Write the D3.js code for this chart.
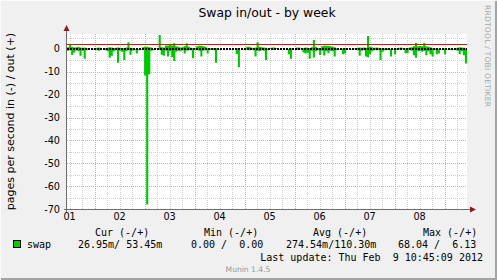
<!DOCTYPE html>
<html>
<head>
<meta charset="utf-8">
<script src="https://cdnjs.cloudflare.com/ajax/libs/d3/7.8.5/d3.min.js"></script>
<style>
body { margin: 0; background: #f0f0f0; }
svg { display: block; }
</style>
</head>
<body>
<div id="chart"></div>
<script>
var title = "Swap in/out - by week";
var yTitle = "pages per second in (-) / out (+)";
var vendor = "RRDTOOL / TOBI OETIKER";

// one value per hour, starting Feb 1 10:45
var swapIn = [
    0.8, 0.6, 2.6, 1.5, 0.7, 1.0, 3.0, 0.8, 4.3, 0.6, 0, 0, 0.2, 0, 0.6, 0.8, 0, 0, 0.5, 1.0, 3.8, 3.0, 1.0, 0.6,
    6.0, 0.8, 1.2, 4.8, 1.0, 0.6, 2.5, 0.8, 0.5, 2.0, 0.5, 0, 0, 11.6, 68.04, 11.0, 0.8, 0.6, 0, 0.2, 0.6, 2.5, 3.0, 0.8,
    3.3, 1.0, 3.6, 5.2, 1.2, 0.8, 1.0, 0.6, 2.0, 0.8, 0.6, 0.5, 4.0, 0.3, 0.6, 0.8, 3.3, 0.8, 0.6, 2.0, 0.5, 0.3, 0.6, 6.0,
    0.4, 0, 0, 0, 0, 0, 0, 0, 0, 2.2, 8.0, 0, 0, 0, 0.3, 0.5, 0.2, 0.6, 3.3, 0.8, 1.0, 0.6, 0.8, 4.8,
    0.5, 0, 0.3, 0.4, 0, 0, 0, 0, 0, 0, 2.3, 4.3, 0.3, 0, 0.3, 0.4, 0, 1.5, 2.0, 1.6, 4.3, 0.8, 3.7, 1.0,
    0.6, 2.6, 0.8, 2.8, 1.0, 1.9, 0.8, 1.0, 3.3, 0.6, 0, 0, 2.3, 2.0, 0.4, 0, 0, 0, 0.3, 0.5, 3.0, 0.8, 0.6, 3.3,
    3.6, 2.3, 1.0, 0.6, 0.5, 0.6, 4.8, 1.2, 0.5, 0.6, 0.3, 3.3, 0, 2.3, 0.3, 0, 0.4, 0, 1.9, 1.9, 0.3, 0.8, 2.7, 3.8,
    1.0, 0.8, 1.2, 0.8, 2.7, 1.0, 2.3, 3.3, 0.6, 2.3, 2.0, 0, 0.3, 2.3, 0, 0.3, 0.5, 0, 0.6, 0.8, 2.3, 1.0, 2.7, 6.3
];
var swapOut = [
    0.8, 1.7, 0.9, 0.6, 0.8, 1.0, 0.7, 0.5, 0.6, 0.3, 0, 0, 0, 0, 0.5, 0.6, 0, 0, 0.3, 0.5, 0.8, 0.6, 0.4, 0.5,
    0.6, 0.5, 0.4, 0.3, 0.6, 3.0, 0.5, 0.3, 0, 0, 0, 0, 0.8, 1.0, 1.0, 0.8, 0.6, 0, 0, 0.3, 6.13, 0.8, 0.6, 1.5,
    1.5, 1.8, 1.5, 2.5, 1.2, 1.0, 0.6, 0.8, 1.2, 2.5, 1.0, 0.5, 0.4, 0.3, 1.2, 1.4, 1.4, 1.2, 1.0, 0.3, 0.3, 0.2, 0.4, 0.3,
    0, 0, 0, 0, 0, 0, 0, 0, 0, 0.3, 0.2, 0, 0, 0, 1.0, 1.0, 0.6, 0.3, 0.6, 2.9, 1.0, 0.8, 0.6, 0.5,
    0.2, 0.3, 0.6, 0.6, 0.3, 0, 0, 0, 0, 0, 0, 0.2, 0, 0, 0.6, 0.6, 0, 0.3, 0.6, 0.5, 0.4, 0.8, 3.9, 1.0,
    0.4, 0.3, 1.2, 1.4, 1.4, 1.4, 1.2, 1.0, 0.8, 0.3, 0, 0, 0.2, 0.3, 0, 0, 0, 0, 0.3, 0.5, 0.6, 0.5, 0.6, 0.5,
    5.7, 1.0, 0.8, 0.4, 0.6, 0.5, 0.3, 0.2, 0.3, 0.4, 0, 0, 0, 0, 0.3, 0.5, 0.6, 0.3, 0.2, 0.3, 0.6, 0.8, 1.2, 2.6,
    1.2, 1.4, 1.2, 2.6, 1.2, 1.0, 0.8, 0.3, 0.2, 0.3, 0, 0, 0.2, 0.3, 0, 0, 0.2, 0, 0.3, 0.5, 0.8, 0.6, 0.5, 0.3
];
var yTicks = [-70, -60, -50, -40, -30, -20, -10, 0];
var warnLine = 2.2;
var legendHead = ["Cur (-/+)", "Min (-/+)", "Avg (-/+)", "Max (-/+)"];
var legendVals = ["26.95m/ 53.45m", "0.00 /  0.00", "274.54m/110.30m", "68.04 /  6.13"];
var legendName = "swap";
var lastUpdate = "Last update: Thu Feb  9 10:45:09 2012";
var footer = "Munin 1.4.5";

var startTime = new Date(2012, 1, 1, 10, 45);
var endTime = new Date(2012, 1, 9, 10, 45);

var W = 497, H = 280;
var pLeft = 67, pRight = 467, pTop = 34, pBottom = 209;

var svg = d3.select("#chart").append("svg")
    .attr("width", W)
    .attr("height", H);

svg.append("rect").attr("width", W).attr("height", H).attr("fill", "#f0f0f0");
// 3d-ish frame
svg.append("path").attr("d", "M0,279V0H496").attr("fill", "none").attr("stroke", "#fbfbfb").attr("stroke-width", 2);
svg.append("path").attr("d", "M1,279H496V1").attr("fill", "none").attr("stroke", "#a4a4a4").attr("stroke-width", 2);

var x = d3.scaleTime().domain([startTime, endTime]).range([pLeft, pRight]);
var y = d3.scaleLinear().domain([-70, 6.56]).range([pBottom, pTop]);

svg.append("rect")
    .attr("x", pLeft).attr("y", pTop)
    .attr("width", pRight - pLeft).attr("height", pBottom - pTop)
    .attr("fill", "#fff");

// grid
var minorT = d3.timeHour.every(6).range(startTime, endTime);
var days = d3.timeDay.range(startTime, endTime);
var grid = svg.append("g").attr("shape-rendering", "crispEdges");

grid.selectAll(".vmin").data(minorT).enter().append("line")
    .attr("x1", function(d){ return Math.round(x(d)) + 0.5; })
    .attr("x2", function(d){ return Math.round(x(d)) + 0.5; })
    .attr("y1", pTop).attr("y2", pBottom)
    .attr("stroke", "#cfcfcf").attr("stroke-dasharray", "1,1");

var hminor = d3.range(-65, 6, 10);
grid.selectAll(".hmin").data(hminor).enter().append("line")
    .attr("x1", pLeft).attr("x2", pRight)
    .attr("y1", function(d){ return Math.round(y(d)) + 0.5; })
    .attr("y2", function(d){ return Math.round(y(d)) + 0.5; })
    .attr("stroke", "#cfcfcf").attr("stroke-dasharray", "1,1");

grid.selectAll(".vmaj").data(days).enter().append("line")
    .attr("x1", function(d){ return Math.round(x(d)) + 0.5; })
    .attr("x2", function(d){ return Math.round(x(d)) + 0.5; })
    .attr("y1", pTop).attr("y2", pBottom)
    .attr("stroke", "#eaa0a0").attr("stroke-dasharray", "1,1");

grid.selectAll(".hmaj").data(yTicks.filter(function(d){ return d > -70; })).enter().append("line")
    .attr("x1", pLeft).attr("x2", pRight)
    .attr("y1", function(d){ return Math.round(y(d)) + 0.5; })
    .attr("y2", function(d){ return Math.round(y(d)) + 0.5; })
    .attr("stroke", "#eaa0a0").attr("stroke-dasharray", "1,1");

// data, one step per hour, filled down to zero
function series(vals, sign) {
    var pts = vals.map(function(v, i){ return [d3.timeHour.offset(startTime, i), sign * v]; });
    pts.push([endTime, sign * vals[vals.length - 1]]);
    return pts;
}
var area = d3.area()
    .x(function(d){ return x(d[0]); })
    .y0(y(0))
    .y1(function(d){ return y(d[1]); })
    .curve(d3.curveStepAfter);

svg.append("path").datum(series(swapIn, -1))
    .attr("d", area).attr("fill", "#00c800");
svg.append("path").datum(series(swapOut, 1))
    .attr("d", area).attr("fill", "#00c800");

// zero line and warning rule
svg.append("line")
    .attr("x1", pLeft).attr("x2", pRight)
    .attr("y1", y(0)).attr("y2", y(0))
    .attr("stroke", "#000").attr("stroke-width", 2).attr("stroke-dasharray", "2,1");
svg.append("line")
    .attr("x1", pLeft - 1).attr("x2", pRight)
    .attr("y1", Math.round(y(warnLine)) + 0.5).attr("y2", Math.round(y(warnLine)) + 0.5)
    .attr("stroke", "#ff0000").attr("stroke-width", 1);

// axes
var ax = svg.append("g").attr("shape-rendering", "crispEdges");
ax.append("line").attr("x1", pLeft - 0.5).attr("x2", pLeft - 0.5).attr("y1", pBottom + 3).attr("y2", 29).attr("stroke", "#6e6e6e");
ax.append("line").attr("x1", pLeft - 3).attr("x2", pRight + 4).attr("y1", pBottom + 0.5).attr("y2", pBottom + 0.5).attr("stroke", "#6e6e6e");
svg.append("path").attr("d", "M" + (pLeft - 3.5) + ",31L" + (pLeft - 0.5) + ",25L" + (pLeft + 2.5) + ",31Z").attr("fill", "#8c1b1b");
svg.append("path").attr("d", "M" + (pRight + 3) + "," + (pBottom - 2.5) + "L" + (pRight + 9) + "," + (pBottom + 0.5) + "L" + (pRight + 3) + "," + (pBottom + 3.5) + "Z").attr("fill", "#8c1b1b");

svg.selectAll(".ytick").data(yTicks).enter().append("text")
    .attr("x", 60)
    .attr("y", function(d){ return y(d) + 3.5; })
    .attr("text-anchor", "end")
    .attr("font-family", "DejaVu Sans")
    .attr("font-size", "9.7px")
    .attr("fill", "#000")
    .text(function(d){ return d; });

var noons = d3.timeDay.range(d3.timeDay.floor(startTime), endTime)
    .map(function(d){ return d3.timeHour.offset(d, 12); })
    .filter(function(d){ return d >= startTime && d <= endTime; });
svg.selectAll(".xtick").data(noons).enter().append("text")
    .attr("x", function(d){ return x(d); })
    .attr("y", pBottom + 11)
    .attr("text-anchor", "middle")
    .attr("font-family", "DejaVu Sans")
    .attr("font-size", "9.7px")
    .text(d3.timeFormat("%d"));

// titles
svg.append("text")
    .attr("x", (pLeft + pRight) / 2).attr("y", 17)
    .attr("text-anchor", "middle")
    .attr("font-family", "DejaVu Sans").attr("font-size", "12.4px")
    .text(title);

svg.append("text")
    .attr("transform", "translate(14," + ((pTop + pBottom) / 2) + ") rotate(-90)")
    .attr("text-anchor", "middle")
    .attr("font-family", "DejaVu Sans").attr("font-size", "11px")
    .text(yTitle);

svg.append("text")
    .attr("transform", "translate(485,5) rotate(90)")
    .attr("font-family", "DejaVu Sans").attr("font-size", "7.6px")
    .attr("fill", "#a8a8a8")
    .attr("textLength", 102).attr("lengthAdjust", "spacing")
    .text(vendor);

// legend
var mono = function(sel){ return sel.attr("font-family", "DejaVu Sans Mono").attr("font-size", "10px").style("white-space", "pre"); };
var headX = [95, 204, 313, 423];
var valX = [78, 191, 286, 398];
legendHead.forEach(function(t, i){
    mono(svg.append("text").attr("x", headX[i]).attr("y", 236)).text(t);
});
legendVals.forEach(function(t, i){
    mono(svg.append("text").attr("x", valX[i]).attr("y", 248)).text(t);
});
svg.append("rect").attr("x", 13.5).attr("y", 240.5).attr("width", 7).attr("height", 7)
    .attr("fill", "#00cc00").attr("stroke", "#000");
mono(svg.append("text").attr("x", 27).attr("y", 248)).text(legendName);
mono(svg.append("text").attr("x", 483).attr("y", 261).attr("text-anchor", "end")).text(lastUpdate);

svg.append("text")
    .attr("x", 248).attr("y", 272)
    .attr("text-anchor", "middle")
    .attr("font-family", "DejaVu Sans").attr("font-size", "7.6px")
    .attr("fill", "#9a9a9a")
    .text(footer);
</script>
</body>
</html>
